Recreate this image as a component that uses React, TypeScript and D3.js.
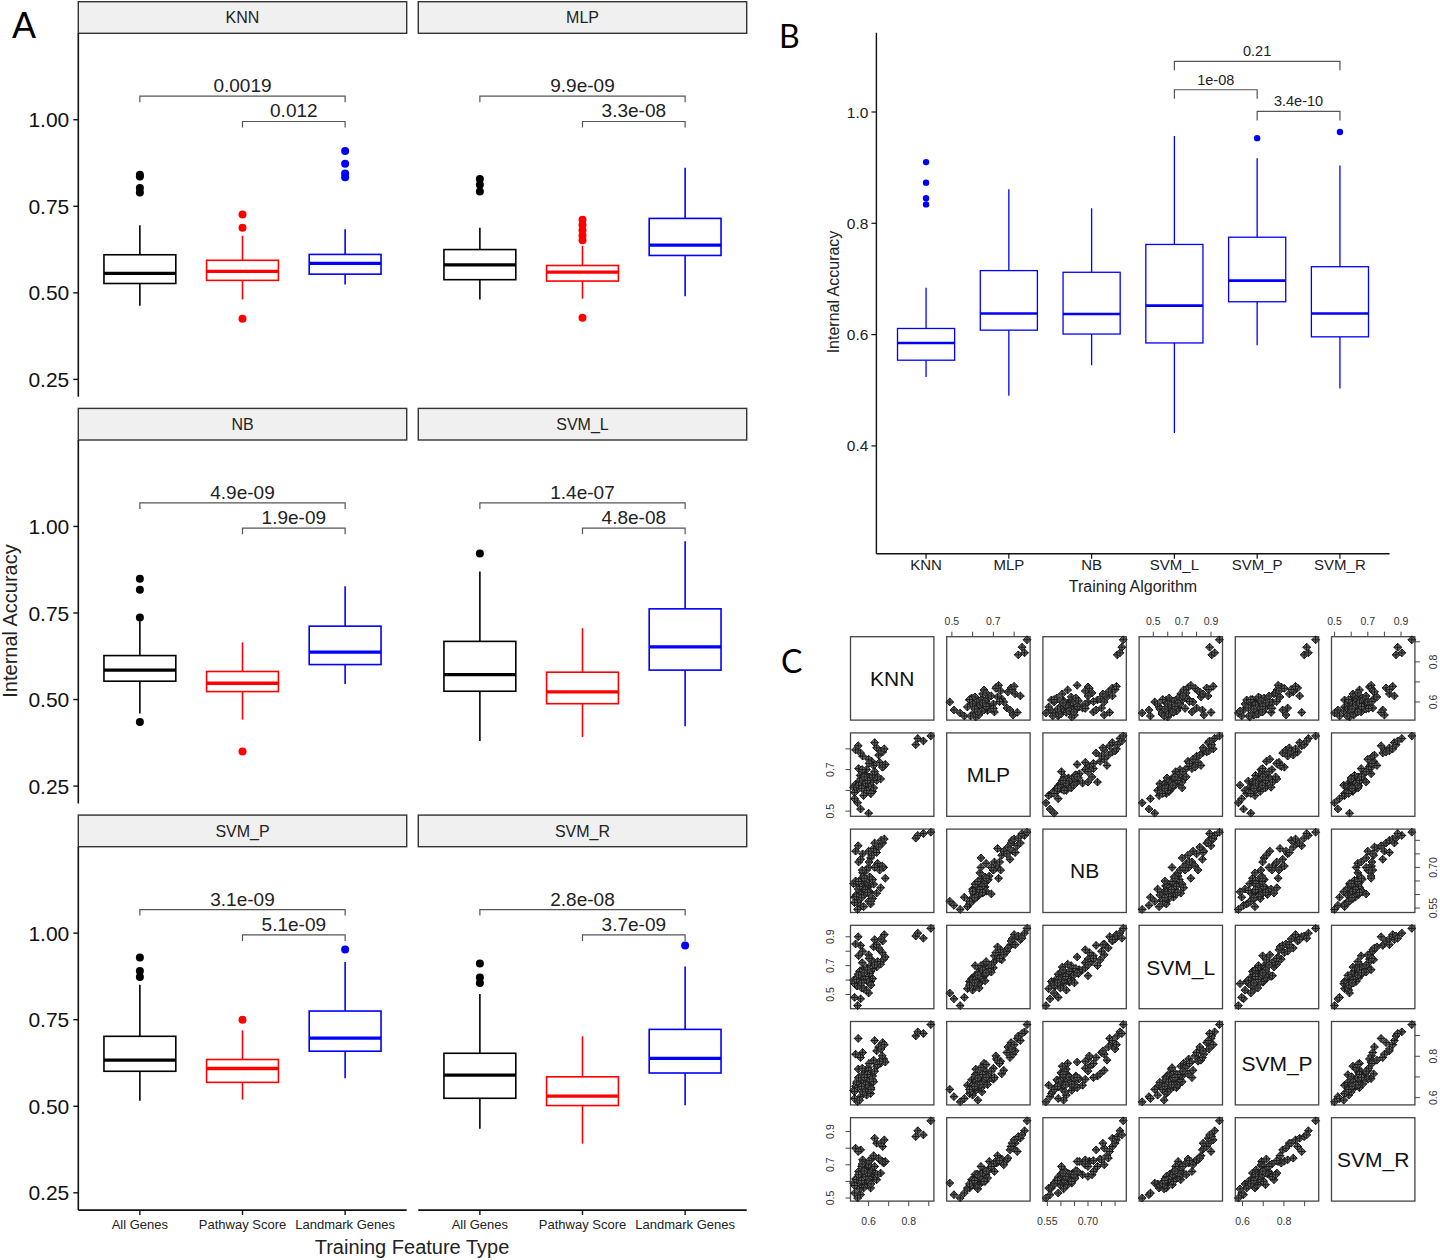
import React from "react";
import * as d3 from "d3";

// ---------------- DATA ----------------
const algorithms = ["KNN", "MLP", "NB", "SVM_L", "SVM_P", "SVM_R"];
const featureTypes = ["All Genes", "Pathway Score", "Landmark Genes"];

// [lower whisker, Q1, median, Q3, upper whisker] per algorithm
const allGenesBoxes = [
  [0.463, 0.527, 0.556, 0.61, 0.695],
  [0.481, 0.538, 0.581, 0.625, 0.688],
  [0.46, 0.553, 0.585, 0.627, 0.726],
  [0.38, 0.524, 0.572, 0.668, 0.87],
  [0.516, 0.601, 0.633, 0.702, 0.851],
  [0.435, 0.523, 0.59, 0.653, 0.824],
];
const allGenesOutliers = [
  [0.841, 0.836, 0.803, 0.79],
  [0.829, 0.812, 0.793],
  [0.849, 0.817, 0.737, 0.435],
  [0.922],
  [0.93, 0.891, 0.873],
  [0.912, 0.872, 0.856],
];
const pathwayBoxes = [
  [0.481, 0.536, 0.562, 0.594, 0.665],
  [0.483, 0.534, 0.56, 0.579, 0.636],
  [0.442, 0.523, 0.547, 0.581, 0.665],
  [0.392, 0.488, 0.522, 0.579, 0.706],
  [0.519, 0.569, 0.609, 0.635, 0.719],
  [0.392, 0.502, 0.529, 0.585, 0.702],
];
const pathwayOutliers = [
  [0.726, 0.688, 0.425],
  [0.711, 0.696, 0.681, 0.665, 0.652, 0.428],
  [0.35],
  [],
  [0.75],
  [],
];
const landmarkBoxes = [
  [0.524, 0.554, 0.585, 0.611, 0.684],
  [0.49, 0.608, 0.638, 0.715, 0.861],
  [0.545, 0.601, 0.637, 0.712, 0.827],
  [0.423, 0.585, 0.652, 0.762, 0.957],
  [0.581, 0.659, 0.697, 0.775, 0.917],
  [0.503, 0.596, 0.638, 0.722, 0.904],
];
const landmarkOutliers = [[0.91, 0.873, 0.845, 0.834], [], [], [], [0.953], [0.964]];

const pAllVsLandmark = ["0.0019", "9.9e-09", "4.9e-09", "1.4e-07", "3.1e-09", "2.8e-08"];
const pPathwayVsLandmark = ["0.012", "3.3e-08", "1.9e-09", "4.8e-08", "5.1e-09", "3.7e-09"];
const bracketLevels = [1.068, 0.995];

const facetTicks = [0.25, 0.5, 0.75, 1.0];
const algoTicks = [0.4, 0.6, 0.8, 1.0];

const algoComparisons = [
  { a: "SVM_L", b: "SVM_R", y: 1.091, p: "0.21" },
  { a: "SVM_L", b: "SVM_P", y: 1.04, p: "1e-08" },
  { a: "SVM_P", b: "SVM_R", y: 1.001, p: "3.4e-10" },
];

// per-sample internal accuracy (landmark genes) for the pairs plot
const knnAcc = [0.56, 0.545, 0.6, 0.53, 0.575, 0.59, 0.54, 0.61, 0.555, 0.62, 0.525, 0.565, 0.585, 0.6, 0.548, 0.57, 0.595, 0.535, 0.605, 0.58, 0.56, 0.592, 0.612, 0.548, 0.588, 0.57, 0.602, 0.582, 0.64, 0.558, 0.598, 0.625, 0.575, 0.66, 0.59, 0.645, 0.565, 0.675, 0.61, 0.683, 0.55, 0.615, 0.668, 0.6, 0.655, 0.57, 0.625, 0.56, 0.65, 0.535, 0.67, 0.64, 0.662, 0.548, 0.678, 0.63, 0.835, 0.845, 0.873, 0.91,
  0.545, 0.58, 0.6, 0.56, 0.53, 0.62, 0.575, 0.59, 0.555, 0.605, 0.54, 0.585, 0.568, 0.612, 0.55, 0.595, 0.63, 0.565, 0.578, 0.602];
const mlpAcc = [0.51, 0.54, 0.49, 0.56, 0.575, 0.6, 0.61, 0.585, 0.625, 0.595, 0.615, 0.632, 0.605, 0.64, 0.62, 0.645, 0.612, 0.63, 0.655, 0.622, 0.638, 0.66, 0.642, 0.615, 0.65, 0.635, 0.665, 0.628, 0.648, 0.672, 0.64, 0.612, 0.68, 0.655, 0.7, 0.665, 0.69, 0.715, 0.64, 0.725, 0.705, 0.74, 0.712, 0.75, 0.735, 0.765, 0.72, 0.78, 0.77, 0.795, 0.785, 0.805, 0.79, 0.815, 0.8, 0.83, 0.82, 0.85, 0.838, 0.862,
  0.605, 0.64, 0.62, 0.655, 0.59, 0.675, 0.628, 0.6, 0.645, 0.66, 0.615, 0.635, 0.7, 0.585, 0.625, 0.648, 0.69, 0.61, 0.665, 0.73];
const nbAcc = [0.56, 0.545, 0.575, 0.59, 0.555, 0.62, 0.6, 0.565, 0.61, 0.585, 0.64, 0.598, 0.605, 0.632, 0.59, 0.615, 0.625, 0.65, 0.61, 0.6, 0.64, 0.628, 0.66, 0.62, 0.645, 0.68, 0.612, 0.635, 0.605, 0.652, 0.7, 0.638, 0.668, 0.625, 0.69, 0.715, 0.602, 0.7, 0.735, 0.66, 0.72, 0.745, 0.705, 0.76, 0.69, 0.75, 0.77, 0.73, 0.775, 0.76, 0.79, 0.755, 0.8, 0.78, 0.805, 0.79, 0.808, 0.818, 0.825, 0.83,
  0.58, 0.625, 0.605, 0.64, 0.57, 0.655, 0.598, 0.612, 0.63, 0.665, 0.592, 0.618, 0.69, 0.575, 0.648, 0.608, 0.7, 0.588, 0.66, 0.72];
const svmLAcc = [0.47, 0.423, 0.51, 0.48, 0.54, 0.53, 0.56, 0.59, 0.575, 0.61, 0.6, 0.545, 0.62, 0.585, 0.64, 0.6, 0.632, 0.58, 0.65, 0.615, 0.645, 0.595, 0.66, 0.625, 0.652, 0.67, 0.64, 0.655, 0.69, 0.665, 0.63, 0.7, 0.672, 0.71, 0.685, 0.728, 0.655, 0.745, 0.7, 0.76, 0.768, 0.74, 0.79, 0.775, 0.81, 0.8, 0.83, 0.84, 0.822, 0.85, 0.87, 0.845, 0.885, 0.9, 0.915, 0.88, 0.905, 0.925, 0.89, 0.958,
  0.56, 0.61, 0.59, 0.64, 0.575, 0.68, 0.615, 0.6, 0.66, 0.645, 0.605, 0.625, 0.72, 0.565, 0.635, 0.67, 0.705, 0.58, 0.65, 0.75];
const svmPAcc = [0.605, 0.58, 0.64, 0.596, 0.66, 0.612, 0.668, 0.62, 0.588, 0.686, 0.635, 0.674, 0.642, 0.699, 0.652, 0.628, 0.711, 0.655, 0.666, 0.72, 0.658, 0.701, 0.648, 0.738, 0.671, 0.66, 0.726, 0.683, 0.752, 0.663, 0.745, 0.677, 0.692, 0.766, 0.689, 0.76, 0.695, 0.787, 0.704, 0.772, 0.697, 0.715, 0.802, 0.732, 0.776, 0.818, 0.781, 0.794, 0.845, 0.81, 0.866, 0.826, 0.835, 0.886, 0.856, 0.876, 0.898, 0.918, 0.91, 0.953,
  0.65, 0.672, 0.69, 0.665, 0.63, 0.705, 0.684, 0.66, 0.7, 0.69, 0.676, 0.662, 0.742, 0.64, 0.695, 0.712, 0.728, 0.655, 0.698, 0.765];
const svmRAcc = [0.52, 0.5, 0.59, 0.53, 0.56, 0.585, 0.575, 0.56, 0.555, 0.61, 0.59, 0.58, 0.598, 0.605, 0.625, 0.6, 0.58, 0.615, 0.67, 0.645, 0.61, 0.6, 0.65, 0.628, 0.65, 0.64, 0.66, 0.638, 0.61, 0.62, 0.63, 0.642, 0.72, 0.65, 0.7, 0.64, 0.69, 0.71, 0.69, 0.72, 0.66, 0.735, 0.722, 0.7, 0.73, 0.73, 0.755, 0.79, 0.74, 0.8, 0.81, 0.83, 0.83, 0.78, 0.85, 0.86, 0.87, 0.905, 0.88, 0.965,
  0.59, 0.615, 0.63, 0.6, 0.575, 0.665, 0.622, 0.608, 0.645, 0.655, 0.612, 0.628, 0.705, 0.585, 0.64, 0.65, 0.69, 0.605, 0.662, 0.725];

const pairTicks = [
  [0.6, 0.7, 0.8, 0.9],
  [0.5, 0.6, 0.7, 0.8],
  [0.55, 0.6, 0.65, 0.7, 0.75, 0.8],
  [0.5, 0.6, 0.7, 0.8, 0.9],
  [0.6, 0.7, 0.8, 0.9],
  [0.5, 0.6, 0.7, 0.8, 0.9],
];
const pairTickLabels = [
  ["0.6", "0.8"],
  ["0.5", "0.7"],
  ["0.55", "0.70"],
  ["0.5", "0.7", "0.9"],
  ["0.6", "0.8"],
  ["0.5", "0.7", "0.9"],
];

// ---------------- STYLE ----------------
const FONT = "'Liberation Sans', Arial, Helvetica, sans-serif";
const LETTER_FONT = "Lato, 'Open Sans', sans-serif";
const featureColors = ["#000000", "#ff0000", "#0000ff"];

type Stats = number[];

function BoxGlyph(props: {
  cx: number;
  w: number;
  stats: Stats;
  outliers: number[];
  y: (v: number) => number;
  color: string;
  lw: number;
  mw: number;
  r: number;
}) {
  const { cx, w, stats, outliers, y, color, lw, mw, r } = props;
  const [lo, q1, med, q3, hi] = stats;
  return (
    <g>
      <line x1={cx} x2={cx} y1={y(q3)} y2={y(hi)} stroke={color} strokeWidth={lw} />
      <line x1={cx} x2={cx} y1={y(q1)} y2={y(lo)} stroke={color} strokeWidth={lw} />
      <rect x={cx - w / 2} y={y(q3)} width={w} height={y(q1) - y(q3)} fill="white" stroke={color} strokeWidth={lw} />
      <line x1={cx - w / 2} x2={cx + w / 2} y1={y(med)} y2={y(med)} stroke={color} strokeWidth={mw} />
      {outliers.map((o, i) => (
        <circle key={i} cx={cx} cy={y(o)} r={r} fill={color} />
      ))}
    </g>
  );
}

function Bracket(props: { xa: number; xb: number; yy: number; drop: number; label: string; fs: number; gap: number }) {
  const { xa, xb, yy, drop, label, fs, gap } = props;
  return (
    <g>
      <path d={`M${xa},${yy + drop}V${yy}H${xb}V${yy + drop}`} fill="none" stroke="#555" strokeWidth={1.2} />
      <text x={(xa + xb) / 2} y={yy - gap} textAnchor="middle" fontSize={fs} fill="#222" fontFamily={FONT}>
        {label}
      </text>
    </g>
  );
}

// -------- Panel A --------
const A = { colX: [78.3, 418.3], w: 328.4, rowTop: [33.3, 440, 846.7], h: 363.4, strip: 31.6 };

function Facet({ k }: { k: number }) {
  const row = Math.floor(k / 2);
  const col = k % 2;
  const x0 = A.colX[col];
  const top = A.rowTop[row];
  const x = d3.scalePoint<string>().domain(featureTypes).range([x0, x0 + A.w]).padding(0.6);
  const y = d3.scaleLinear().domain([0.2, 1.2497]).range([top + A.h, top]);
  const bw = x.step() * 0.7;
  const sets = [
    [allGenesBoxes, allGenesOutliers],
    [pathwayBoxes, pathwayOutliers],
    [landmarkBoxes, landmarkOutliers],
  ];
  const bottom = top + A.h;
  return (
    <g>
      <rect x={x0} y={top - A.strip} width={A.w} height={A.strip} fill="#f0f0f0" stroke="#333" strokeWidth={1.4} />
      <text x={x0 + A.w / 2} y={top - A.strip / 2} dy="0.36em" textAnchor="middle" fontSize={16} fill="#222" fontFamily={FONT}>
        {algorithms[k]}
      </text>
      {col === 0 && (
        <g>
          <line x1={x0} x2={x0} y1={top} y2={bottom} stroke="#111" strokeWidth={1.6} />
          {facetTicks.map((t) => (
            <g key={t}>
              <line x1={x0 - 5} x2={x0} y1={y(t)} y2={y(t)} stroke="#111" strokeWidth={1.4} />
              <text x={x0 - 9} y={y(t)} dy="0.36em" textAnchor="end" fontSize={21} fill="#111" fontFamily={FONT}>
                {d3.format(".2f")(t)}
              </text>
            </g>
          ))}
        </g>
      )}
      {row === 2 && (
        <g>
          <line x1={x0} x2={x0 + A.w} y1={bottom} y2={bottom} stroke="#111" strokeWidth={1.6} />
          {featureTypes.map((f) => (
            <g key={f}>
              <line x1={x(f)!} x2={x(f)!} y1={bottom} y2={bottom + 5} stroke="#111" strokeWidth={1.4} />
              <text x={x(f)!} y={bottom + 19} textAnchor="middle" fontSize={13} fill="#222" fontFamily={FONT}>
                {f}
              </text>
            </g>
          ))}
        </g>
      )}
      {sets.map(([boxes, outs], i) => (
        <BoxGlyph
          key={i}
          cx={x(featureTypes[i])!}
          w={bw}
          stats={(boxes as number[][])[k]}
          outliers={(outs as number[][])[k]}
          y={y}
          color={featureColors[i]}
          lw={1.6}
          mw={3.3}
          r={4}
        />
      ))}
      <Bracket xa={x(featureTypes[0])!} xb={x(featureTypes[2])!} yy={y(bracketLevels[0])} drop={6} label={pAllVsLandmark[k]} fs={19} gap={4} />
      <Bracket xa={x(featureTypes[1])!} xb={x(featureTypes[2])!} yy={y(bracketLevels[1])} drop={6} label={pPathwayVsLandmark[k]} fs={19} gap={4} />
    </g>
  );
}

// -------- Panel B --------
function PanelB() {
  const x0 = 876.4, x1 = 1389.6, top = 32.7, bottom = 553.8;
  const x = d3.scalePoint<string>().domain(algorithms).range([x0, x1]).padding(0.6);
  const y = d3.scaleLinear().domain([0.2061, 1.1425]).range([bottom, top]);
  const bw = x.step() * 0.69;
  return (
    <g>
      <line x1={x0} x2={x0} y1={top} y2={bottom} stroke="#111" strokeWidth={1.4} />
      <line x1={x0} x2={x1} y1={bottom} y2={bottom} stroke="#111" strokeWidth={1.4} />
      {algoTicks.map((t) => (
        <g key={t}>
          <line x1={x0 - 5} x2={x0} y1={y(t)} y2={y(t)} stroke="#111" strokeWidth={1.2} />
          <text x={x0 - 8} y={y(t)} dy="0.36em" textAnchor="end" fontSize={15.5} fill="#222" fontFamily={FONT}>
            {d3.format(".1f")(t)}
          </text>
        </g>
      ))}
      {algorithms.map((a, i) => (
        <g key={a}>
          <line x1={x(a)!} x2={x(a)!} y1={bottom} y2={bottom + 5} stroke="#111" strokeWidth={1.2} />
          <text x={x(a)!} y={bottom + 16} textAnchor="middle" fontSize={15} fill="#222" fontFamily={FONT}>
            {a}
          </text>
          <BoxGlyph cx={x(a)!} w={bw} stats={landmarkBoxes[i]} outliers={landmarkOutliers[i]} y={y} color="#0000ff" lw={1.3} mw={2.6} r={3.2} />
        </g>
      ))}
      {algoComparisons.map((c, i) => (
        <Bracket key={i} xa={x(c.a)!} xb={x(c.b)!} yy={y(c.y)} drop={9} label={c.p} fs={14.5} gap={5} />
      ))}
      <text x={(x0 + x1) / 2} y={592} textAnchor="middle" fontSize={16} fill="#222" fontFamily={FONT}>
        Training Algorithm
      </text>
      <text transform={`translate(839,292) rotate(-90)`} textAnchor="middle" fontSize={16} fill="#222" fontFamily={FONT}>
        Internal Accuracy
      </text>
    </g>
  );
}

// -------- Panel C --------
const C = { x0: 850.5, y0: 636.7, pitch: 96.2, size: 83.4 };
const sampleSets = [knnAcc, mlpAcc, nbAcc, svmLAcc, svmPAcc, svmRAcc];

function PanelC() {
  const scales = sampleSets.map((vals) => {
    const [lo, hi] = d3.extent(vals) as [number, number];
    const pad = (hi - lo) * 0.04;
    return [lo - pad, hi + pad];
  });
  const cellX = (j: number) => C.x0 + j * C.pitch;
  const cellY = (i: number) => C.y0 + i * C.pitch;
  const sx = (j: number) => d3.scaleLinear().domain(scales[j]).range([cellX(j), cellX(j) + C.size]);
  const sy = (i: number) => d3.scaleLinear().domain(scales[i]).range([cellY(i) + C.size, cellY(i)]);
  const r = 3.9;
  const marker = `M0,${-r}L${r},0L0,${r}L${-r},0Z M0,${-r}V${r} M${-r},0H${r}`;
  const n = algorithms.length;
  const cells: JSX.Element[] = [];
  for (let i = 0; i < n; i++) {
    for (let j = 0; j < n; j++) {
      const X = cellX(j), Y = cellY(i);
      if (i === j) {
        cells.push(
          <g key={`${i}-${j}`}>
            <rect x={X} y={Y} width={C.size} height={C.size} fill="white" stroke="#444" strokeWidth={1.3} />
            <text x={X + C.size / 2} y={Y + C.size / 2} dy="0.36em" textAnchor="middle" fontSize={21} fill="#111" fontFamily={FONT}>
              {algorithms[i]}
            </text>
          </g>
        );
      } else {
        const xs = sx(j), ys = sy(i);
        cells.push(
          <g key={`${i}-${j}`}>
            <rect x={X} y={Y} width={C.size} height={C.size} fill="white" stroke="#444" strokeWidth={1.3} />
            {sampleSets[j].map((v, k) => (
              <path key={k} d={marker} transform={`translate(${xs(v)},${ys(sampleSets[i][k])})`} fill="#666" stroke="#1a1a1a" strokeWidth={1} />
            ))}
          </g>
        );
      }
    }
  }
  const axes: JSX.Element[] = [];
  for (let j = 0; j < n; j++) {
    const xs = sx(j);
    const isTop = j % 2 === 1;
    const yEdge = isTop ? cellY(0) : cellY(n - 1) + C.size;
    const dir = isTop ? -1 : 1;
    axes.push(
      <g key={`ax-${j}`}>
        {pairTicks[j].map((t) => (
          <line key={t} x1={xs(t)} x2={xs(t)} y1={yEdge} y2={yEdge + dir * 5} stroke="#444" strokeWidth={1} />
        ))}
        {pairTickLabels[j].map((l) => (
          <text key={l} x={xs(+l)} y={isTop ? yEdge - 15 : yEdge + 20} dy="0.36em" textAnchor="middle" fontSize={10.5} fill="#333" fontFamily={FONT}>
            {l}
          </text>
        ))}
      </g>
    );
  }
  for (let i = 0; i < n; i++) {
    const ys = sy(i);
    const isLeft = i % 2 === 1;
    const xEdge = isLeft ? cellX(0) : cellX(n - 1) + C.size;
    const dir = isLeft ? -1 : 1;
    axes.push(
      <g key={`ay-${i}`}>
        {pairTicks[i].map((t) => (
          <line key={t} x1={xEdge} x2={xEdge + dir * 5} y1={ys(t)} y2={ys(t)} stroke="#444" strokeWidth={1} />
        ))}
        {pairTickLabels[i].map((l) => (
          <text key={l} transform={`translate(${isLeft ? xEdge - 20 : xEdge + 18},${ys(+l)}) rotate(-90)`} dy="0.36em" textAnchor="middle" fontSize={10.5} fill="#333" fontFamily={FONT}>
            {l}
          </text>
        ))}
      </g>
    );
  }
  return (
    <g>
      {cells}
      {axes}
    </g>
  );
}

export default function App() {
  return (
    <svg width={1440} height={1260} viewBox="0 0 1440 1260" style={{ position: "absolute", left: 0, top: 0, background: "white" }}>
      <rect x={0} y={0} width={1440} height={1260} fill="white" />
      <text x={12} y={38} fontSize={36} fill="#000" fontFamily={FONT}>A</text>
      <text x={779} y={48} fontSize={32} fill="#000" fontFamily={LETTER_FONT}>B</text>
      <text x={781} y={673} fontSize={32} fill="#000" fontFamily={LETTER_FONT}>C</text>
      {algorithms.map((_, k) => (
        <Facet key={k} k={k} />
      ))}
      <text x={412} y={1254} textAnchor="middle" fontSize={20} fill="#222" fontFamily={FONT}>
        Training Feature Type
      </text>
      <text transform="translate(17,621) rotate(-90)" textAnchor="middle" fontSize={20} fill="#222" fontFamily={FONT}>
        Internal Accuracy
      </text>
      <PanelB />
      <PanelC />
    </svg>
  );
}
